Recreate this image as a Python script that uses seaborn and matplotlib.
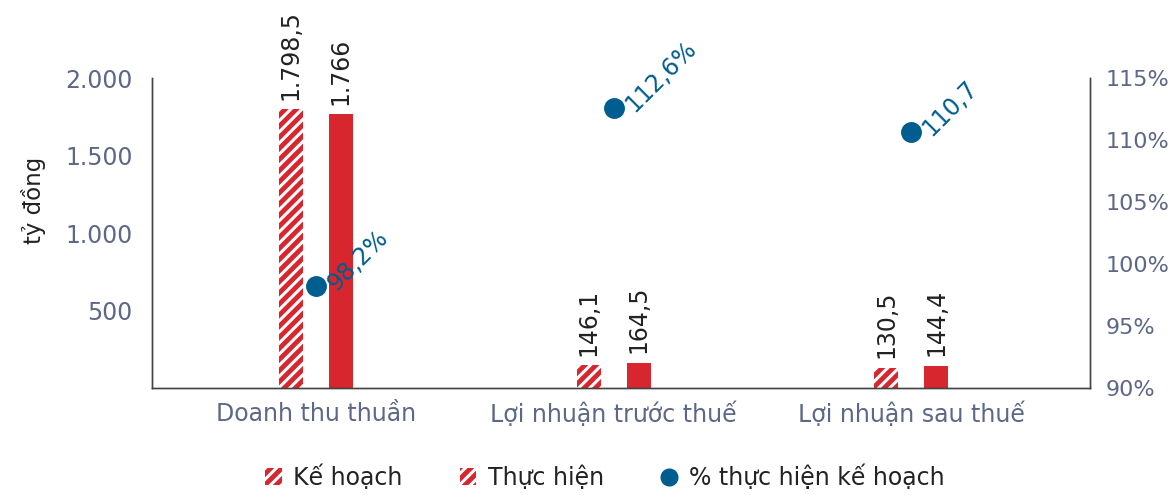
import matplotlib
matplotlib.use("Agg")
import matplotlib.pyplot as plt
import seaborn as sns
import pandas as pd
from matplotlib.patches import Patch
from matplotlib.lines import Line2D

# Data
categories = ["Doanh thu thuần", "Lợi nhuận trước thuế", "Lợi nhuận sau thuế"]
series_names = ["Kế hoạch", "Thực hiện", "% thực hiện kế hoạch"]
plan_values = [1798.5, 146.1, 130.5]
actual_values = [1766.0, 164.5, 144.4]
plan_labels = ["1.798,5", "146,1", "130,5"]
actual_labels = ["1.766", "164,5", "144,4"]
pct_values = [98.2, 112.6, 110.7]
pct_labels = ["98,2%", "112,6%", "110,7"]
left_ticks = [500, 1000, 1500, 2000]
left_tick_labels = ["500", "1.000", "1.500", "2.000"]
right_ticks = [90, 95, 100, 105, 110, 115]
right_tick_labels = ["90%", "95%", "100%", "105%", "110%", "115%"]
y_title = "tỷ đồng"

RED = "#D7262E"
BLUE = "#005D8F"
GREY = "#5D6786"
INK = "#222222"
SPINE = "#444444"

sns.set_theme(style="white")
plt.rcParams["font.family"] = ["DejaVu Sans"]
plt.rcParams["hatch.linewidth"] = 2.2

df = pd.DataFrame({
    "category": categories * 2,
    "series": [series_names[0]] * 3 + [series_names[1]] * 3,
    "value": plan_values + actual_values,
})

fig = plt.figure(figsize=(11.7, 4.95), dpi=100)
ax = fig.add_axes([0.13, 0.216, 0.8016, 0.626])

sns.barplot(data=df, x="category", y="value", hue="series", order=categories,
            hue_order=series_names[:2], palette=[RED, RED], width=0.336, gap=0.52,
            saturation=1, legend=False, ax=ax)

plan_bars, actual_bars = ax.containers[0], ax.containers[1]
for bar in plan_bars:
    bar.set_hatch("///")
    bar.set_edgecolor("white")
    bar.set_linewidth(0)
for bar in actual_bars:
    bar.set_linewidth(0)

ax.bar_label(plan_bars, labels=plan_labels, rotation=90, padding=7,
             fontsize=17, color=INK)
ax.bar_label(actual_bars, labels=actual_labels, rotation=90, padding=7,
             fontsize=17, color=INK)

ax2 = ax.twinx()
sns.pointplot(x=categories, y=pct_values, order=categories, color=BLUE,
              linestyle="none", markersize=13, errorbar=None, ax=ax2)
for i, (v, lbl) in enumerate(zip(pct_values, pct_labels)):
    ax2.annotate(lbl, (i, v), xytext=(11, 0), textcoords="offset points",
                 rotation=45, rotation_mode="anchor", ha="left", va="center",
                 fontsize=17, color=BLUE)

ax.set_xlim(-0.55, 2.6)
ax.set_ylim(0, 2000)
ax2.set_ylim(90, 115)

ax.set_yticks(left_ticks, left_tick_labels)
ax2.set_yticks(right_ticks, right_tick_labels)
ax.set_xticks(range(len(categories)), categories)

ax.tick_params(axis="y", length=0, pad=14, labelsize=17, labelcolor=GREY)
ax.tick_params(axis="x", length=0, pad=10, labelsize=17, labelcolor=GREY)
ax2.tick_params(axis="y", length=0, pad=11, labelsize=16, labelcolor=GREY)
ax.set_xlabel("")
ax.set_ylabel(y_title, fontsize=16.5, color=INK)
ax.yaxis.set_label_coords(-0.113, 0.606)
ax2.set_xlabel("")
ax2.set_ylabel("")

for a in (ax, ax2):
    a.spines["top"].set_visible(False)
    for side in ("left", "right", "bottom"):
        a.spines[side].set_color(SPINE)
        a.spines[side].set_linewidth(1.0)
    a.grid(False)

handles = [
    Patch(facecolor=RED, edgecolor="white", hatch="///", linewidth=0),
    Patch(facecolor=RED, edgecolor="white", hatch="///", linewidth=0),
    Line2D([], [], marker="o", linestyle="none", color=BLUE, markersize=12),
]
fig.legend(handles, series_names, loc="center", bbox_to_anchor=(0.517, 0.036),
           ncol=3, frameon=False, fontsize=17, handlelength=0.7, handleheight=0.7,
           handletextpad=0.5, columnspacing=2.4, labelcolor=INK)

fig.savefig("out.png", dpi=100)
